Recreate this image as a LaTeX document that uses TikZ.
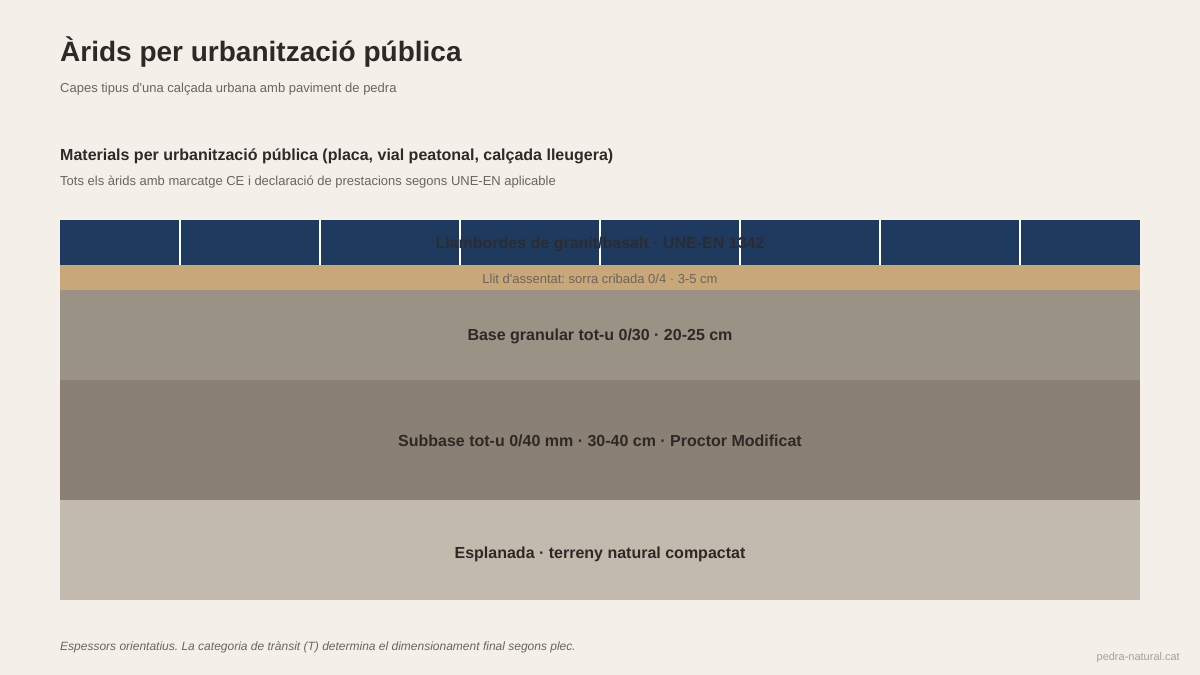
\documentclass[tikz,border=0pt]{standalone}
\usepackage{fontspec}
\setmainfont{Liberation Sans}
\frenchspacing
\definecolor{bgcol}{HTML}{F5EFE9}
\definecolor{inkcol}{HTML}{2D2A26}
\definecolor{greycol}{HTML}{6B655E}
\definecolor{navycol}{HTML}{1F3A5F}
\definecolor{sandcol}{HTML}{C8A878}
\definecolor{basecol}{HTML}{9B9286}
\definecolor{subcol}{HTML}{8A8073}
\definecolor{esplcol}{HTML}{C3BAAE}
\definecolor{markcol}{HTML}{A8A098}
\tikzset{
  layerlabel/.style={font=\bfseries\fontsize{16}{19}\selectfont, text=inkcol},
}
\begin{document}
\begin{tikzpicture}[x=1pt,y=-1pt]
 	\fill [bgcol] (0,0) rectangle (1200,675);
 	\useasboundingbox (0,0) rectangle (1200,675);
 	
 	\node [anchor=base west, inner sep=0, text=inkcol, font=\bfseries\fontsize{28}{32}\selectfont] (title) at (60,61) {Àrids per urbanització pública};
 	\node [anchor=base west, inner sep=0, text=greycol, font=\fontsize{13}{15}\selectfont] (subtitle) at (60,92) {Capes tipus d\textquotesingle una calçada urbana amb paviment de pedra};
 	\node [anchor=base west, inner sep=0, text=inkcol, font=\bfseries\fontsize{16}{19}\selectfont] (heading) at (60,160) {Materials per urbanització pública (placa, vial peatonal, calçada lleugera)};
 	\node [anchor=base west, inner sep=0, text=greycol, font=\fontsize{13}{15}\selectfont] (note) at (60,185) {Tots els àrids amb marcatge CE i declaració de prestacions segons UNE-EN aplicable};
 	
 	% capes
 	\fill [esplcol] (60,500) rectangle (1140,600);
 	\fill [subcol] (60,380) rectangle (1140,500);
 	\fill [basecol] (60,290) rectangle (1140,380);
 	\fill [sandcol] (60,265) rectangle (1140,290);
 	\fill [navycol] (60,220) rectangle (1140,265);
 	\foreach \x in {180,320,...,1020}
 		\draw [white, line width=2pt] (\x,220) -- (\x,265);
 	
 	\node [layerlabel, text=inkcol!85!navycol] (paving) at (600,244) {Llambordes de granit/basalt · UNE-EN 1342};
 	\node [text=greycol, font=\fontsize{13}{15}\selectfont] (bed) at (600,279) {Llit d\textquotesingle assentat: sorra cribada 0/4 · 3-5 cm};
 	\node [layerlabel] (base) at (600,336) {Base granular tot-u 0/30 · 20-25 cm};
 	\node [layerlabel] (subbase) at (600,441) {Subbase tot-u 0/40 mm · 30-40 cm · Proctor Modificat};
 	\node [layerlabel] (subgrade) at (600,554) {Esplanada · terreny natural compactat};
 	
 	\node [anchor=base west, inner sep=0, text=greycol, font=\itshape\fontsize{12}{14}\selectfont] (foot) at (60,650) {Espessors orientatius. La categoria de trànsit (T) determina el dimensionament final segons plec.};
 	\node [anchor=base east, inner sep=0, text=markcol, font=\fontsize{11}{13}\selectfont] (site) at (1180,660) {pedra-natural.cat};
\end{tikzpicture}
\end{document}
